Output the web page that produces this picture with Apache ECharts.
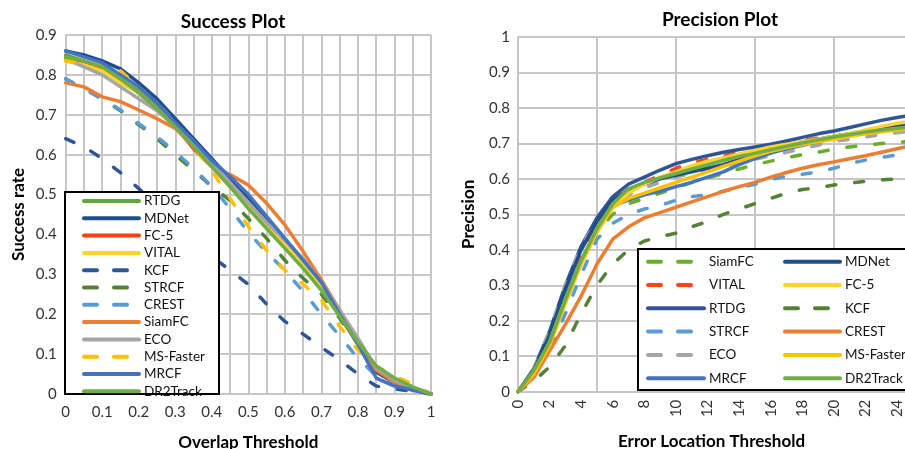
<!DOCTYPE html>
<html>
<head>
<meta charset="utf-8">
<title>Success / Precision Plot</title>
<script src="https://cdn.jsdelivr.net/npm/echarts@6/dist/echarts.min.js"></script>
<style>
  html, body { margin: 0; padding: 0; background: #fff; }
  #chart { width: 905px; height: 449px; }
</style>
</head>
<body>
<div id="chart"></div>
<script>
// ---- Success plot: success rate vs overlap threshold ----
const overlapX = [0, 0.05, 0.1, 0.15, 0.2, 0.25, 0.3, 0.35, 0.4, 0.45, 0.5, 0.55, 0.6, 0.65, 0.7, 0.75, 0.8, 0.85, 0.9, 0.95, 1]

const rtdgS     = [0.85, 0.835, 0.82, 0.79, 0.76, 0.72, 0.675, 0.625, 0.575, 0.525, 0.47, 0.42, 0.37, 0.32, 0.265, 0.2, 0.13, 0.065, 0.035, 0.015, 0]
const mdnetS    = [0.86, 0.85, 0.835, 0.815, 0.78, 0.74, 0.69, 0.64, 0.59, 0.54, 0.49, 0.44, 0.38, 0.33, 0.275, 0.2, 0.13, 0.055, 0.028, 0.01, 0]
const fc5S      = [0.845, 0.83, 0.815, 0.785, 0.755, 0.715, 0.67, 0.615, 0.57, 0.52, 0.47, 0.42, 0.37, 0.32, 0.27, 0.195, 0.125, 0.06, 0.03, 0.012, 0]
const vitalS    = [0.835, 0.825, 0.81, 0.78, 0.755, 0.715, 0.67, 0.62, 0.575, 0.525, 0.475, 0.425, 0.375, 0.325, 0.27, 0.2, 0.13, 0.065, 0.035, 0.015, 0]
const kcfS      = [0.64, 0.62, 0.59, 0.555, 0.515, 0.475, 0.43, 0.39, 0.345, 0.31, 0.275, 0.225, 0.182, 0.15, 0.117, 0.085, 0.05, 0.02, 0.013, 0.006, 0]
const strcfS    = [0.79, 0.765, 0.74, 0.71, 0.675, 0.64, 0.6, 0.56, 0.52, 0.485, 0.44, 0.39, 0.335, 0.29, 0.25, 0.19, 0.125, 0.06, 0.03, 0.012, 0]
const crestS    = [0.79, 0.765, 0.74, 0.712, 0.678, 0.645, 0.607, 0.566, 0.52, 0.465, 0.405, 0.355, 0.31, 0.257, 0.2, 0.145, 0.09, 0.045, 0.025, 0.01, 0]
const siamfcS   = [0.78, 0.77, 0.745, 0.733, 0.712, 0.69, 0.666, 0.62, 0.57, 0.55, 0.524, 0.478, 0.424, 0.357, 0.286, 0.21, 0.128, 0.06, 0.03, 0.012, 0]
const ecoS      = [0.84, 0.82, 0.8, 0.77, 0.74, 0.71, 0.67, 0.625, 0.58, 0.53, 0.48, 0.43, 0.385, 0.34, 0.28, 0.21, 0.14, 0.065, 0.035, 0.015, 0]
const msfasterS = [0.835, 0.83, 0.825, 0.81, 0.77, 0.73, 0.68, 0.62, 0.56, 0.49, 0.42, 0.36, 0.31, 0.275, 0.235, 0.17, 0.11, 0.07, 0.045, 0.025, 0]
const mrcfS     = [0.86, 0.845, 0.83, 0.8, 0.77, 0.73, 0.68, 0.635, 0.585, 0.545, 0.5, 0.445, 0.39, 0.335, 0.28, 0.2, 0.125, 0.04, 0.02, 0.01, 0]
const dr2trackS = [0.845, 0.835, 0.82, 0.79, 0.755, 0.715, 0.67, 0.62, 0.57, 0.52, 0.465, 0.415, 0.365, 0.315, 0.26, 0.195, 0.13, 0.07, 0.04, 0.018, 0]

// ---- Precision plot: precision vs error location threshold (pixels) ----
const errorX = [0, 1, 2, 3, 4, 5, 6, 7, 8, 9, 10, 11, 12, 13, 14, 15, 16, 17, 18, 19, 20, 21, 22, 23, 24, 25]

const siamfcP   = [0, 0.055, 0.13, 0.25, 0.37, 0.45, 0.5, 0.53, 0.545, 0.56, 0.575, 0.59, 0.603, 0.615, 0.628, 0.64, 0.65, 0.66, 0.668, 0.675, 0.684, 0.69, 0.695, 0.7, 0.703, 0.706]
const vitalP    = [0, 0.06, 0.15, 0.28, 0.39, 0.47, 0.53, 0.57, 0.59, 0.61, 0.63, 0.645, 0.655, 0.665, 0.675, 0.685, 0.693, 0.7, 0.708, 0.715, 0.72, 0.727, 0.733, 0.74, 0.745, 0.75]
const rtdgP     = [0, 0.065, 0.17, 0.3, 0.41, 0.49, 0.55, 0.585, 0.605, 0.625, 0.643, 0.655, 0.665, 0.675, 0.683, 0.69, 0.698, 0.707, 0.717, 0.727, 0.735, 0.745, 0.755, 0.765, 0.773, 0.78]
const strcfP    = [0, 0.05, 0.12, 0.22, 0.33, 0.43, 0.475, 0.5, 0.515, 0.525, 0.54, 0.55, 0.555, 0.565, 0.575, 0.585, 0.598, 0.607, 0.613, 0.62, 0.63, 0.643, 0.653, 0.66, 0.668, 0.675]
const ecoP      = [0, 0.065, 0.17, 0.3, 0.41, 0.48, 0.525, 0.555, 0.575, 0.59, 0.605, 0.615, 0.625, 0.635, 0.645, 0.655, 0.665, 0.675, 0.685, 0.695, 0.705, 0.712, 0.718, 0.725, 0.73, 0.735]
const mrcfP     = [0, 0.06, 0.15, 0.27, 0.37, 0.46, 0.525, 0.54, 0.555, 0.565, 0.578, 0.59, 0.605, 0.62, 0.64, 0.657, 0.673, 0.685, 0.695, 0.705, 0.714, 0.722, 0.73, 0.737, 0.745, 0.75]
const mdnetP    = [0, 0.06, 0.16, 0.29, 0.4, 0.48, 0.54, 0.57, 0.585, 0.6, 0.61, 0.62, 0.63, 0.64, 0.655, 0.67, 0.685, 0.695, 0.705, 0.712, 0.72, 0.727, 0.735, 0.742, 0.75, 0.755]
const fc5P      = [0, 0.055, 0.14, 0.26, 0.37, 0.46, 0.52, 0.56, 0.585, 0.605, 0.62, 0.637, 0.65, 0.66, 0.67, 0.68, 0.69, 0.698, 0.705, 0.712, 0.72, 0.728, 0.738, 0.748, 0.757, 0.763]
const kcfP      = [0, 0.03, 0.07, 0.13, 0.22, 0.3, 0.36, 0.4, 0.425, 0.437, 0.447, 0.465, 0.48, 0.5, 0.515, 0.53, 0.545, 0.56, 0.57, 0.575, 0.583, 0.588, 0.593, 0.597, 0.6, 0.603]
const crestP    = [0, 0.04, 0.115, 0.19, 0.27, 0.36, 0.43, 0.465, 0.49, 0.505, 0.52, 0.535, 0.55, 0.565, 0.578, 0.59, 0.605, 0.618, 0.63, 0.64, 0.648, 0.657, 0.665, 0.675, 0.685, 0.695]
const msfasterP = [0, 0.05, 0.13, 0.25, 0.36, 0.45, 0.52, 0.545, 0.56, 0.575, 0.59, 0.605, 0.62, 0.635, 0.65, 0.665, 0.678, 0.688, 0.697, 0.705, 0.712, 0.72, 0.727, 0.733, 0.738, 0.742]
const dr2trackP = [0, 0.06, 0.14, 0.26, 0.37, 0.46, 0.53, 0.572, 0.59, 0.603, 0.615, 0.628, 0.64, 0.652, 0.663, 0.672, 0.682, 0.692, 0.701, 0.71, 0.718, 0.725, 0.732, 0.738, 0.743, 0.747]

// legend order (left chart single column, right chart two columns)
const successOrder = ['RTDG', 'MDNet', 'FC-5', 'VITAL', 'KCF', 'STRCF', 'CREST', 'SiamFC', 'ECO', 'MS-Faster', 'MRCF', 'DR2Track']
const precisionCol1 = ['SiamFC', 'VITAL', 'RTDG', 'STRCF', 'ECO', 'MRCF']
const precisionCol2 = ['MDNet', 'FC-5', 'KCF', 'CREST', 'MS-Faster', 'DR2Track']

const FONT = 'Lato, "Open Sans", sans-serif'
const GRID_COLOR = '#C6C6C6'
const P = ' \u200b' // suffix so the two plots' series keep separate legends

// [name, data, color, dashed]
const successLines = [
  ['RTDG', rtdgS, '#63A53A', false],
  ['MDNet', mdnetS, '#1F4E8C', false],
  ['FC-5', fc5S, '#FF3F12', false],
  ['VITAL', vitalS, '#FFD42E', false],
  ['KCF', kcfS, '#2F5597', true],
  ['STRCF', strcfS, '#548235', true],
  ['CREST', crestS, '#5B9BD5', true],
  ['SiamFC', siamfcS, '#ED7D31', false],
  ['ECO', ecoS, '#A5A5A5', false],
  ['MS-Faster', msfasterS, '#FFC000', true],
  ['MRCF', mrcfS, '#4472C4', false],
  ['DR2Track', dr2trackS, '#70AD47', false]
]

const precisionLines = [
  ['SiamFC', siamfcP, '#68AE2C', true],
  ['VITAL', vitalP, '#FF4419', true],
  ['RTDG', rtdgP, '#2F5597', false],
  ['STRCF', strcfP, '#5B9BD5', true],
  ['ECO', ecoP, '#A5A5A5', true],
  ['MRCF', mrcfP, '#4472C4', false],
  ['MDNet', mdnetP, '#1F4E8C', false],
  ['FC-5', fc5P, '#FFD42E', false],
  ['KCF', kcfP, '#548235', true],
  ['CREST', crestP, '#ED7D31', false],
  ['MS-Faster', msfasterP, '#FFC000', false],
  ['DR2Track', dr2trackP, '#70AD47', false]
]

function makeSeries(item, xs, gridIdx, xIdx, suffix) {
  const [name, ys, color, dashed] = item
  return {
    name: name + suffix,
    type: 'line',
    xAxisIndex: xIdx,
    yAxisIndex: gridIdx,
    data: xs.map((x, i) => [x, ys[i]]),
    symbol: 'none',
    showSymbol: false,
    color: color,
    lineStyle: {
      color: color,
      width: 3.5,
      type: dashed ? [9, 19] : 'solid',
      cap: 'round',
      join: 'round'
    },
    emphasis: { disabled: true },
    z: 2
  }
}

function legendItems(names, lines, suffix) {
  return names.map(n => {
    const line = lines.find(l => l[0] === n)
    const it = { name: n + suffix }
    if (line[3]) it.lineStyle = { type: [13, 17] }
    return it
  })
}

function fmtTick(v) {
  if (Math.abs(v) < 1e-9) return '0'
  if (Math.abs(v - 1) < 1e-9) return '1'
  return v.toFixed(1)
}

const tickLabel = { color: '#333', fontSize: 15, fontFamily: FONT }
const axisNameStyle = { color: '#000', fontSize: 17, fontWeight: 'bold', fontFamily: FONT }
const gridLine = { show: true, lineStyle: { color: GRID_COLOR, width: 2 } }
const legendBase = {
  orient: 'vertical',
  padding: 0,
  itemHeight: 12,
  textStyle: { color: '#111', fontSize: 13.5, lineHeight: 14, fontFamily: FONT },
  lineStyle: { width: 4, cap: 'round' },
  itemStyle: { opacity: 0 },
  selectedMode: false,
  formatter: name => name.replace(P, '')
}

const chart = echarts.init(document.getElementById('chart'))

chart.setOption({
  animation: false,
  backgroundColor: '#fff',
  textStyle: { fontFamily: FONT },
  grid: [
    { left: 65.7, right: 474, top: 35, bottom: 55, containLabel: false, outerBoundsMode: 'none' },
    { left: 518, right: 0, top: 37, bottom: 57.3, containLabel: false, outerBoundsMode: 'none' }
  ],
  xAxis: [
    {
      gridIndex: 0, type: 'value', position: 'bottom', min: 0, max: 1, interval: 0.05,
      name: 'Overlap Threshold', nameLocation: 'middle', nameGap: 40, nameTextStyle: axisNameStyle,
      axisLine: { show: true, lineStyle: { color: GRID_COLOR, width: 2 } },
      axisTick: { show: false },
      axisLabel: Object.assign({}, tickLabel, {
        margin: 11,
        formatter: v => (Math.round(v * 100) % 10 === 0 ? fmtTick(v) : '')
      }),
      splitLine: gridLine
    },
    {
      gridIndex: 1, type: 'value', position: 'bottom', min: 0, max: 24.5, interval: 5,
      name: 'Error Location Threshold', nameLocation: 'middle', nameGap: 41, nameTextStyle: axisNameStyle,
      axisLine: { show: true, lineStyle: { color: GRID_COLOR, width: 2 } },
      axisTick: { show: false },
      axisLabel: { show: false },
      splitLine: Object.assign({}, gridLine, { showMaxLine: false })
    },
    {
      gridIndex: 1, type: 'value', position: 'bottom', offset: 0, min: 0, max: 24.5, interval: 2,
      axisLine: { show: false },
      axisTick: { show: false },
      splitLine: { show: false },
      axisLabel: Object.assign({}, tickLabel, { rotate: 90, margin: 8, showMaxLabel: false })
    }
  ],
  yAxis: [
    {
      gridIndex: 0, type: 'value', min: 0, max: 0.9, interval: 0.1,
      name: 'Success rate', nameLocation: 'middle', nameGap: 39, nameRotate: 90, nameTextStyle: axisNameStyle,
      axisLine: { show: true, lineStyle: { color: GRID_COLOR, width: 2 } },
      axisTick: { show: false },
      axisLabel: Object.assign({}, tickLabel, { margin: 9, formatter: fmtTick }),
      splitLine: gridLine
    },
    {
      gridIndex: 1, type: 'value', min: 0, max: 1, interval: 0.1,
      name: 'Precision', nameLocation: 'middle', nameGap: 41, nameRotate: 90, nameTextStyle: axisNameStyle,
      axisLine: { show: true, lineStyle: { color: GRID_COLOR, width: 2 } },
      axisTick: { show: false },
      axisLabel: Object.assign({}, tickLabel, { margin: 8, formatter: fmtTick }),
      splitLine: gridLine
    }
  ],
  legend: [
    Object.assign({}, legendBase, {
      left: 82, top: 194, itemWidth: 55, itemGap: 3.3,
      data: legendItems(successOrder, successLines, '')
    }),
    Object.assign({}, legendBase, {
      left: 646, top: 254.7, itemWidth: 56, itemGap: 9.3,
      data: legendItems(precisionCol1, precisionLines, P)
    }),
    Object.assign({}, legendBase, {
      left: 783, top: 254.7, itemWidth: 55, itemGap: 9.3,
      data: legendItems(precisionCol2, precisionLines, P)
    })
  ],
  graphic: [
    {
      type: 'text', x: 233, y: 22, z: 5,
      style: { text: 'Success Plot', align: 'center', verticalAlign: 'middle', font: 'bold 19px ' + FONT, fill: '#000' }
    },
    {
      type: 'text', x: 720, y: 19.5, z: 5,
      style: { text: 'Precision Plot', align: 'center', verticalAlign: 'middle', font: 'bold 19px ' + FONT, fill: '#000' }
    },
    {
      type: 'rect', z: 3,
      shape: { x: 65, y: 192, width: 154, height: 202 },
      style: { fill: '#fff', stroke: '#000', lineWidth: 2 }
    },
    {
      type: 'rect', z: 3,
      shape: { x: 638, y: 249, width: 300, height: 141 },
      style: { fill: '#fff', stroke: '#000', lineWidth: 2 }
    }
  ],
  series: [
    ...successLines.map(l => makeSeries(l, overlapX, 0, 0, '')),
    ...precisionLines.map(l => makeSeries(l, errorX, 1, 1, P))
  ]
})
</script>
</body>
</html>
